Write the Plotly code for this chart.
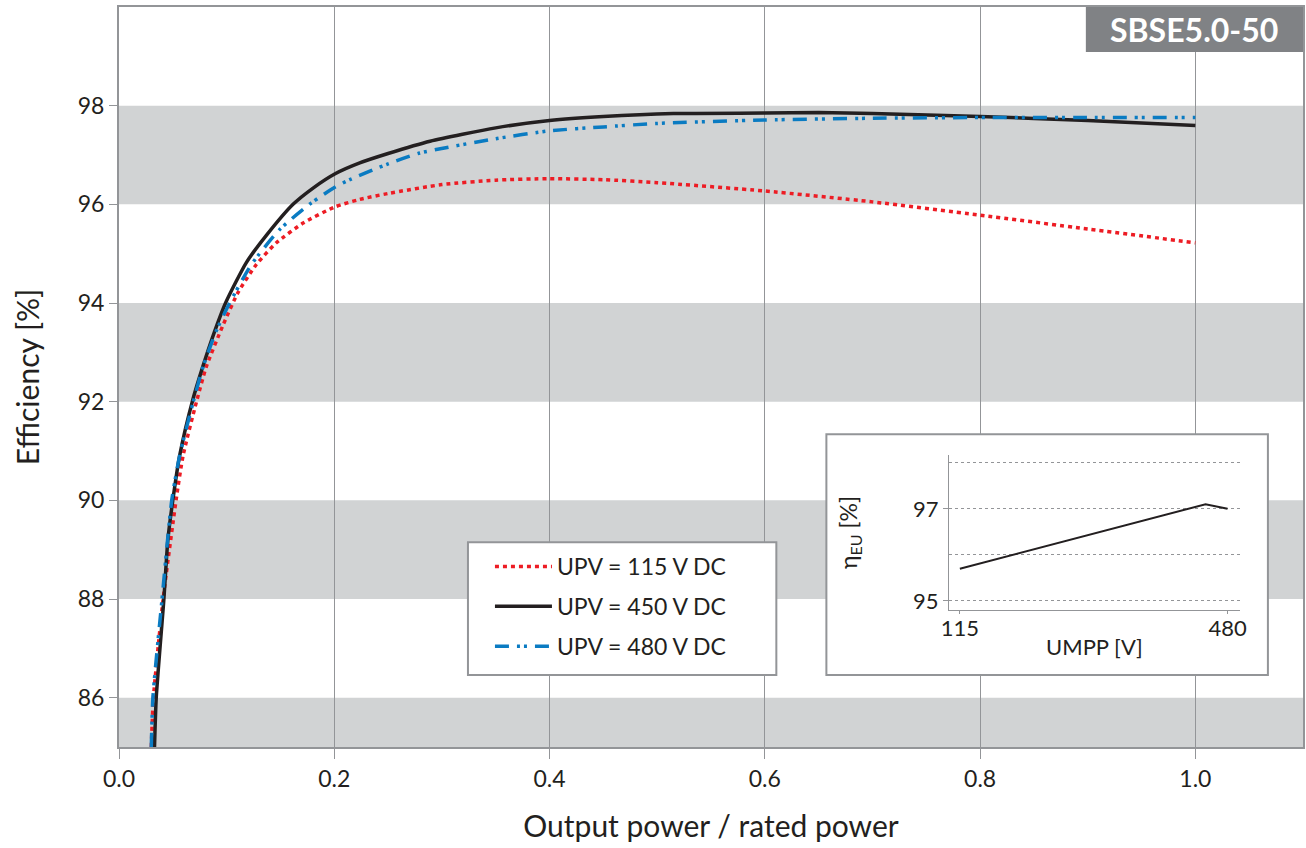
import plotly.graph_objects as go

# ---- data ----
x_115 = [0.030, 0.032, 0.041, 0.053, 0.0595, 0.072, 0.081, 0.0966, 0.1105, 0.1276, 0.1462, 0.171, 0.2008, 0.2237, 0.25, 0.30, 0.35, 0.40, 0.45, 0.50, 0.60, 0.70, 0.80, 0.90, 1.00]
y_115 = [85.0, 86.0, 88.0, 90.0, 90.9, 92.0, 92.7, 93.55, 94.21, 94.78, 95.22, 95.62, 95.95, 96.10, 96.22, 96.40, 96.49, 96.52, 96.50, 96.44, 96.27, 96.05, 95.78, 95.50, 95.22]

x_450 = [0.033, 0.0346, 0.0417, 0.0454, 0.050, 0.0563, 0.0687, 0.078, 0.0873, 0.099, 0.1183, 0.1369, 0.1617, 0.1803, 0.2008, 0.2237, 0.25, 0.289, 0.35, 0.40, 0.45, 0.515, 0.60, 0.65, 0.70, 0.80, 0.90, 1.00]
y_450 = [85.0, 86.0, 88.0, 89.2, 90.0, 90.9, 92.05, 92.72, 93.33, 94.0, 94.82, 95.37, 96.0, 96.33, 96.62, 96.84, 97.03, 97.28, 97.55, 97.70, 97.78, 97.84, 97.85, 97.86, 97.84, 97.78, 97.70, 97.60]

x_480 = [0.030, 0.0315, 0.040, 0.049, 0.0563, 0.069, 0.078, 0.0901, 0.1028, 0.123, 0.1493, 0.1788, 0.2008, 0.2144, 0.25, 0.2795, 0.35, 0.40, 0.45, 0.50, 0.60, 0.70, 0.80, 0.90, 1.00]
y_480 = [85.0, 86.0, 88.0, 90.0, 90.9, 92.0, 92.7, 93.42, 94.0, 94.78, 95.49, 96.03, 96.35, 96.50, 96.82, 97.04, 97.33, 97.49, 97.57, 97.64, 97.71, 97.745, 97.76, 97.76, 97.76]

series_names = ["UPV = 115 V DC", "UPV = 450 V DC", "UPV = 480 V DC"]

inset_v = [115, 450, 480]
inset_eta = [95.7, 97.1, 97.0]

x_ticks = [0.0, 0.2, 0.4, 0.6, 0.8, 1.0]
y_ticks = [86, 88, 90, 92, 94, 96, 98]
band_ranges = [(96, 98), (92, 94), (88, 90), (85, 86)]

FONT = "Lato"
TXT = "#231f20"
GRID = "#939598"
BAND = "#d1d3d4"

fig = go.Figure()

fig.add_trace(go.Scatter(x=x_115, y=y_115, mode="lines", name=series_names[0],
                         legendgroup="a", line=dict(color="#ed1c24", width=3.5, dash="4px,4px", shape="spline", smoothing=0.6)))
fig.add_trace(go.Scatter(x=x_450, y=y_450, mode="lines", name=series_names[1],
                         legendgroup="b", line=dict(color=TXT, width=3.5, shape="spline", smoothing=0.6)))
fig.add_trace(go.Scatter(x=x_480, y=y_480, mode="lines", name=series_names[2],
                         legendgroup="c", line=dict(color="#0a7bc2", width=3.5, dash="14px,8px,3px,4px,3px,8px", shape="spline", smoothing=0.6)))

fig.add_trace(go.Scatter(x=inset_v, y=inset_eta, mode="lines", showlegend=False,
                         xaxis="x2", yaxis="y2", line=dict(color=TXT, width=2)))

shapes = []
for lo, hi in band_ranges:
    shapes.append(dict(type="rect", xref="x", yref="y", x0=0, x1=1.1, y0=lo, y1=hi,
                       fillcolor=BAND, line=dict(width=0), layer="below"))
# inset box
shapes.append(dict(type="rect", xref="x", yref="y", x0=0.6572, x1=1.0674, y0=86.46, y1=91.34,
                   fillcolor="white", line=dict(color=GRID, width=2), layer="between"))
# legend box
shapes.append(dict(type="rect", xref="x", yref="y", x0=0.3242, x1=0.6107, y0=86.46, y1=89.15,
                   fillcolor="white", line=dict(color=GRID, width=2), layer="between"))
# label box
shapes.append(dict(type="rect", xref="paper", yref="paper", x0=0.8166, x1=1.0, y0=0.9392, y1=1.0,
                   fillcolor="#808285", line=dict(width=0), layer="above"))

fig.update_layout(
    width=1306, height=848,
    margin=dict(l=119, r=3, t=7, b=101),
    paper_bgcolor="white", plot_bgcolor="white",
    font=dict(family=FONT, color=TXT, size=23),
    shapes=shapes,
    showlegend=True,
    legend=dict(x=0.3133, y=0.273, xanchor="left", yanchor="top",
                bgcolor="rgba(0,0,0,0)", borderwidth=0,
                font=dict(size=23, color=TXT), tracegroupgap=7,
                itemwidth=57),
    xaxis=dict(range=[0, 1.1], tickvals=x_ticks, tickformat=".1f",
               showgrid=True, gridcolor=GRID, gridwidth=1,
               showline=True, linecolor=GRID, linewidth=2, mirror=True,
               ticks="outside", ticklen=10, tickcolor=GRID,
               tickfont=dict(size=23), zeroline=False, automargin=False,
               title=dict(text="Output power / rated power", font=dict(size=30), standoff=25)),
    yaxis=dict(range=[85, 100], tickvals=y_ticks, showgrid=False,
               showline=True, linecolor=GRID, linewidth=2, mirror=True,
               ticks="outside", ticklen=8, tickcolor=GRID,
               tickfont=dict(size=23), zeroline=False, automargin=False,
               title=dict(text="Efficiency [%]", font=dict(size=30), standoff=29)),
    xaxis2=dict(domain=[0.7009, 0.9468], anchor="y2", range=[100, 497],
                tickvals=[115, 480], showgrid=False, zeroline=False,
                showline=True, linecolor=GRID, linewidth=1,
                ticks="outside", ticklen=3, tickcolor=GRID, ticklabelstandoff=-5,
                tickfont=dict(size=22), automargin=False,
                title=dict(text="UMPP [V]", font=dict(size=22), standoff=0)),
    yaxis2=dict(domain=[0.185, 0.3946], anchor="x2", range=[94.8, 98.17],
                tickvals=[95, 97], showgrid=True, gridcolor=GRID, gridwidth=1, griddash="dot",
                minor=dict(dtick=1, tick0=95, showgrid=True, gridcolor=GRID, gridwidth=1, griddash="dot", ticks=""),
                zeroline=False, showline=True, linecolor=GRID, linewidth=1,
                ticks="outside", ticklen=5, tickcolor=GRID,
                tickfont=dict(size=22), automargin=False,
                title=dict(text="η<sub>EU</sub> [%]", font=dict(size=23), standoff=48)),
    annotations=[dict(text="<b>SBSE5.0-50</b>", xref="paper", yref="paper", x=0.9083, y=0.9696,
                      xanchor="center", yanchor="middle", showarrow=False,
                      font=dict(size=32, color="white", family=FONT))],
)

fig.write_html("out.html", config={"displayModeBar": False},
               post_script="document.body.style.margin='0';document.body.style.overflow='hidden';")
